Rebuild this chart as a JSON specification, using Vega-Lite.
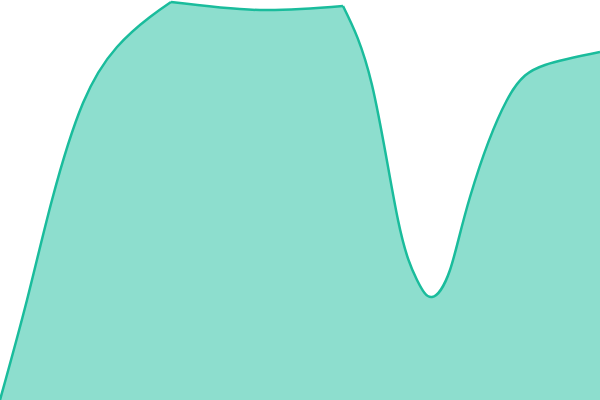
{
  "$schema": "https://vega.github.io/schema/vega-lite/v6.json",
  "width": 600,
  "height": 400,
  "autosize": "none",
  "padding": 0,
  "config": {"view": {"stroke": null}},
  "data": {
    "values": [
      {"seg": "a", "x": 0, "v": 0},
      {"seg": "a", "x": 27, "v": 100},
      {"seg": "a", "x": 52, "v": 200},
      {"seg": "a", "x": 83, "v": 297},
      {"seg": "a", "x": 117, "v": 353},
      {"seg": "a", "x": 150, "v": 383},
      {"seg": "a", "x": 171, "v": 398},
      {"seg": "b", "x": 171, "v": 398},
      {"seg": "b", "x": 260, "v": 390},
      {"seg": "b", "x": 343, "v": 394},
      {"seg": "c", "x": 343, "v": 394},
      {"seg": "c", "x": 372, "v": 315},
      {"seg": "c", "x": 398, "v": 180},
      {"seg": "c", "x": 417, "v": 120},
      {"seg": "c", "x": 432, "v": 103},
      {"seg": "c", "x": 450, "v": 130},
      {"seg": "c", "x": 470, "v": 203},
      {"seg": "c", "x": 507, "v": 300},
      {"seg": "c", "x": 545, "v": 335},
      {"seg": "c", "x": 600, "v": 348}
    ]
  },
  "mark": {
    "type": "area",
    "interpolate": "natural",
    "color": "#8ddece",
    "fillOpacity": 1,
    "line": {"color": "#1abc9c", "strokeWidth": 2.5}
  },
  "encoding": {
    "x": {"field": "x", "type": "quantitative", "axis": null, "scale": {"domain": [0, 600], "nice": false}},
    "y": {"field": "v", "type": "quantitative", "axis": null, "stack": null, "scale": {"domain": [0, 400], "nice": false}},
    "detail": {"field": "seg", "type": "nominal"}
  }
}
